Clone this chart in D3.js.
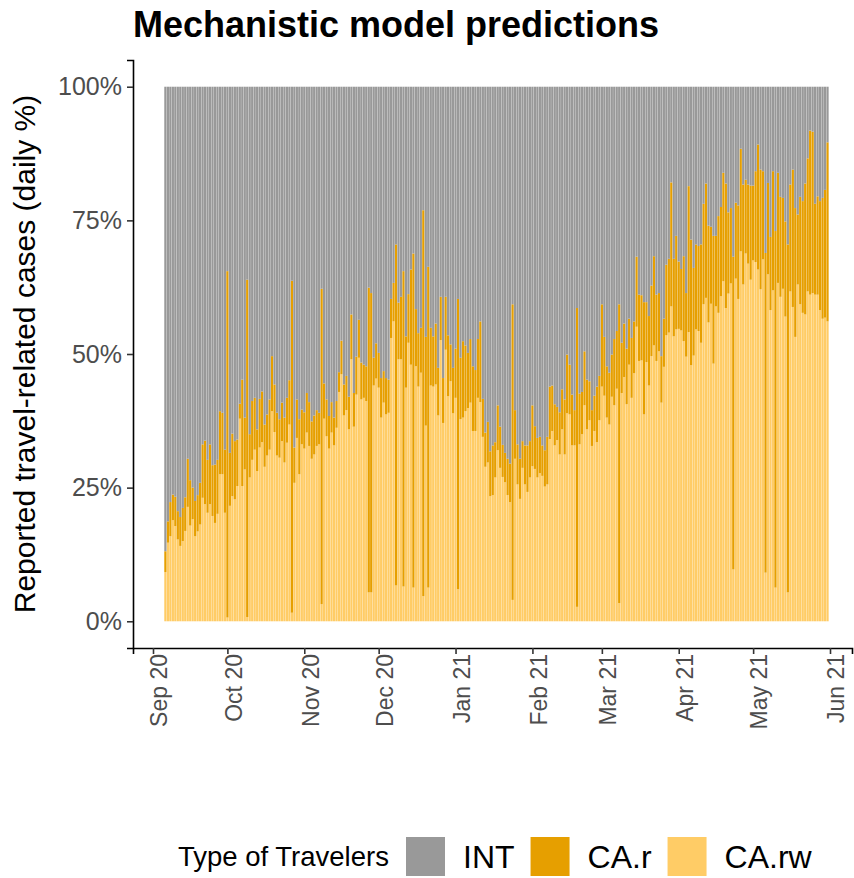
<!doctype html>
<html lang="en">

<head>
  <meta charset="UTF-8">
  <title>Mechanistic model predictions</title>
  <style type="text/css">
    body { margin: 0; background: #fff; }
    text { font-family: "Liberation Sans", Arial, Helvetica, sans-serif; }
  </style>
  <script src="https://cdnjs.cloudflare.com/ajax/libs/d3/7.8.5/d3.min.js"></script>
</head>

<body>
  <div id="container"></div>
  <script>
    // first day of the daily series, one bar per day after it
    var firstDay = "2020-09-06";

    // share of reported travel-related cases (%)
    var caRw = [
      9.2, 14.7, 15.9, 18.9, 17.8, 15.3, 14.1, 15.0, 16.9, 21.4,
      17.9, 19.1, 15.9, 16.8, 18.1, 23.1, 21.9, 20.3, 21.9, 19.7,
      18.4, 20.1, 27.5, 27.5, 20.3, 0.7, 21.6, 23.4, 22.8, 25.3,
      37.9, 25.3, 28.4, 0.8, 26.9, 30.2, 32.1, 28.1, 32.5, 33.5,
      28.9, 31.0, 32.1, 39.3, 35.4, 31.0, 30.6, 33.7, 29.7, 33.4,
      36.8, 1.6, 25.9, 34.3, 27.5, 33.1, 32.3, 35.3, 32.8, 30.4,
      31.2, 32.8, 33.1, 3.2, 37.9, 34.6, 32.3, 35.3, 32.9, 36.2,
      42.9, 46.2, 38.5, 39.5, 35.9, 49.0, 36.4, 42.4, 49.3, 41.5,
      41.8, 41.2, 5.4, 5.4, 44.1, 45.4, 43.7, 38.1, 40.9, 38.7,
      39.0, 53.0, 56.1, 6.7, 49.0, 49.0, 6.5, 43.7, 52.1, 48.0,
      6.3, 47.7, 43.9, 46.5, 4.7, 36.6, 6.3, 44.1, 43.9, 44.3,
      38.5, 52.6, 37.1, 50.8, 42.1, 44.9, 38.9, 41.8, 6.0, 37.8,
      38.1, 39.3, 39.9, 40.9, 35.6, 35.6, 41.8, 41.0, 34.5, 28.9,
      29.7, 23.4, 23.6, 26.9, 32.0, 28.7, 27.0, 26.0, 23.6, 22.3,
      4.0, 30.4, 25.6, 22.9, 28.7, 25.6, 24.2, 26.9, 29.0, 28.5,
      26.9, 27.7, 27.2, 25.2, 25.6, 34.1, 35.6, 32.9, 33.9, 31.2,
      35.9, 31.2, 38.9, 38.7, 32.9, 32.9, 2.7, 33.1, 35.0, 40.4,
      35.9, 37.6, 32.8, 35.6, 33.5, 37.6, 43.9, 42.2, 38.1, 36.8,
      42.0, 40.4, 43.5, 3.4, 42.7, 45.7, 40.6, 48.0, 41.8, 46.4,
      55.1, 48.7, 48.8, 38.7, 48.5, 44.1, 49.6, 51.6, 48.7, 50.5,
      40.9, 47.6, 53.5, 54.0, 58.9, 53.3, 54.6, 54.7, 54.4, 52.4,
      49.5, 54.1, 47.9, 49.7, 54.6, 54.3, 52.1, 59.3, 60.5, 55.9,
      59.4, 48.2, 58.9, 57.7, 60.8, 63.6, 58.6, 61.3, 63.2, 9.7,
      64.1, 60.3, 69.2, 63.0, 68.8, 66.9, 63.9, 67.5, 67.2, 65.8,
      62.1, 67.7, 9.1, 64.9, 58.2, 61.9, 6.3, 63.3, 60.7, 62.2,
      57.0, 5.4, 61.7, 58.8, 53.2, 63.0, 59.3, 57.7, 57.4, 61.7,
      61.1, 61.4, 61.1, 61.1, 58.2, 56.6, 56.8, 56.1
    ];
    var caR = [
      3.9, 4.0, 6.4, 4.8, 5.5, 5.3, 5.4, 6.2, 6.3, 9.0,
      8.5, 5.9, 6.6, 6.8, 7.8, 10.0, 11.9, 9.9, 11.2, 9.5,
      10.9, 10.1, 11.8, 11.5, 11.8, 64.8, 9.9, 11.7, 10.9, 8.7,
      2.8, 19.9, 9.7, 63.1, 8.1, 11.0, 9.7, 7.8, 9.1, 9.5,
      7.9, 7.7, 9.4, 10.3, 8.9, 8.0, 7.2, 7.2, 8.4, 8.4,
      8.3, 62.1, 6.6, 7.2, 10.3, 6.5, 6.8, 7.4, 8.2, 7.0,
      7.3, 6.7, 5.9, 59.0, 6.6, 6.9, 6.1, 5.7, 5.2, 5.0,
      3.7, 6.3, 5.8, 6.4, 6.1, 8.4, 6.3, 7.1, 7.1, 6.9,
      6.2, 6.5, 57.0, 56.0, 5.2, 6.6, 6.5, 7.4, 5.9, 6.8,
      6.2, 7.3, 7.2, 63.8, 10.6, 11.7, 59.0, 9.6, 9.1, 17.8,
      62.5, 10.7, 10.0, 8.4, 72.2, 16.6, 60.0, 10.8, 9.4, 11.4,
      8.9, 8.1, 8.4, 9.9, 11.4, 6.9, 8.5, 9.2, 54.3, 11.5,
      14.3, 12.3, 10.3, 11.9, 12.1, 11.4, 11.0, 15.1, 7.1, 6.4,
      7.6, 8.4, 9.3, 6.6, 8.4, 7.7, 6.0, 5.5, 6.8, 7.2,
      55.3, 9.1, 7.5, 7.5, 5.0, 7.3, 8.7, 6.8, 11.4, 8.0,
      7.4, 6.8, 5.7, 6.8, 8.9, 9.8, 8.5, 7.7, 6.2, 7.9,
      7.5, 10.3, 11.0, 9.3, 9.5, 6.6, 55.9, 9.5, 7.9, 10.1,
      9.3, 7.3, 6.7, 6.6, 10.4, 8.3, 15.4, 11.0, 9.6, 9.7,
      7.9, 12.4, 10.8, 55.9, 9.4, 10.0, 10.4, 8.6, 11.2, 9.7,
      13.1, 12.4, 12.2, 21.0, 11.2, 13.0, 13.2, 16.7, 12.4, 10.9,
      8.7, 9.0, 13.2, 13.8, 23.2, 14.5, 17.5, 12.6, 11.5, 15.9,
      11.9, 27.3, 23.5, 16.4, 15.9, 15.9, 18.4, 18.8, 21.4, 18.1,
      14.4, 23.9, 13.2, 18.1, 16.7, 20.3, 23.3, 15.2, 14.1, 58.5,
      14.2, 17.5, 19.2, 18.7, 13.8, 14.8, 17.6, 14.0, 17.0, 23.4,
      22.4, 16.5, 59.8, 17.1, 13.7, 22.3, 66.7, 20.6, 18.7, 17.0,
      17.8, 65.1, 20.0, 25.7, 24.1, 13.1, 20.1, 20.9, 24.5, 24.9,
      30.7, 30.2, 17.0, 18.4, 20.4, 22.6, 23.9, 33.5
    ];

    var travelerTypes = ["INT", "CA.r", "CA.rw"];
    var travelerColors = ["#999999", "#E69F00", "#FFCC66"];

    var yTicks = [0, 25, 50, 75, 100];
    var xTickDates = ["2020-09-01", "2020-10-01", "2020-11-01", "2020-12-01", "2021-01-01",
      "2021-02-01", "2021-03-01", "2021-04-01", "2021-05-01", "2021-06-01"];
    var xTickLabels = ["Sep 20", "Oct 20", "Nov 20", "Dec 20", "Jan 21",
      "Feb 21", "Mar 21", "Apr 21", "May 21", "Jun 21"];

    var width = 854,
      height = 878,
      panel = { left: 133, right: 852, top: 60, bottom: 648 };

    var parse = d3.utcParse("%Y-%m-%d");
    var start = parse(firstDay);

    // one row per day, INT is what is left of 100%
    var rows = caRw.map(function (v, i) {
      return {
        date: d3.utcDay.offset(start, i),
        "CA.rw": v,
        "CA.r": caR[i],
        "INT": 100 - v - caR[i]
      };
    });

    var svg = d3.select('#container').append('svg')
      .attr('width', width).attr('height', height)
      .style('display', 'block');

    // date scale: Sep 1 -> 153px, Jun 1 -> 830px, then widened to the panel
    var xBase = d3.scaleUtc()
      .domain([parse("2020-09-01"), parse("2021-06-01")])
      .range([153, 830]);
    var x = d3.scaleUtc()
      .domain([xBase.invert(panel.left), xBase.invert(panel.right)])
      .range([panel.left, panel.right]);

    var y = d3.scaleLinear()
      .domain([-5, 105])
      .range([panel.bottom, panel.top]);

    var dayW = x(d3.utcDay.offset(start, 1)) - x(start);

    var stack = d3.stack().keys(["CA.rw", "CA.r", "INT"]);
    var series = stack(rows);
    var color = d3.scaleOrdinal().domain(travelerTypes).range(travelerColors);

    var g = svg.append('g');
    g.selectAll('g.layer')
      .data(series)
      .join('g')
      .attr('class', 'layer')
      .attr('fill', function (d) { return color(d.key); })
      .selectAll('rect')
      .data(function (d) { return d; })
      .join('rect')
      .attr('x', function (d) { return x(d.data.date) - dayW * 0.45; })
      .attr('width', dayW * 0.9)
      .attr('y', function (d) { return y(d[1]); })
      .attr('height', function (d) { return y(d[0]) - y(d[1]); });

    // y axis
    var yAxis = svg.append('g')
      .attr('transform', 'translate(' + panel.left + ',0)')
      .call(d3.axisLeft(y).tickValues(yTicks).tickFormat(function (d) { return d + '%'; })
        .tickSizeOuter(0).tickSize(6).tickPadding(5));
    yAxis.select('.domain').attr('stroke', '#000').attr('stroke-width', 1.6);
    yAxis.selectAll('.tick line').attr('stroke', '#333').attr('stroke-width', 1.6);
    yAxis.selectAll('.tick text').attr('fill', '#4D4D4D').style('font-size', '25px')
      .style('font-family', '"Liberation Sans", Arial, sans-serif');

    // x axis, labels turned to read upwards
    var xAxis = svg.append('g')
      .attr('transform', 'translate(0,' + panel.bottom + ')')
      .call(d3.axisBottom(x).tickValues(xTickDates.map(parse))
        .tickFormat(function (d, i) { return xTickLabels[i]; })
        .tickSizeOuter(0).tickSize(6).tickPadding(5));
    xAxis.select('.domain').attr('stroke', '#000').attr('stroke-width', 1.6);
    xAxis.selectAll('.tick line').attr('stroke', '#333').attr('stroke-width', 1.6);
    xAxis.selectAll('.tick text')
      .attr('fill', '#4D4D4D').style('font-size', '23px')
      .style('font-family', '"Liberation Sans", Arial, sans-serif')
      .attr('text-anchor', 'end')
      .attr('transform', 'rotate(-90)')
      .attr('x', -6).attr('y', 0).attr('dy', '0.6em');

    // title
    svg.append('text')
      .attr('x', panel.left).attr('y', 37)
      .style('font-size', '36px').style('font-weight', 'bold')
      .text('Mechanistic model predictions');

    // y axis title
    svg.append('text')
      .attr('transform', 'translate(35,' + ((panel.top + panel.bottom) / 2) + ') rotate(-90)')
      .attr('text-anchor', 'middle')
      .style('font-size', '30px')
      .text('Reported travel-related cases (daily %)');

    // legend
    var legend = svg.append('g');
    legend.append('text')
      .attr('x', 178).attr('y', 866)
      .style('font-size', '27.5px')
      .text('Type of Travelers');
    var lx = 406;
    travelerTypes.forEach(function (t) {
      legend.append('rect')
        .attr('x', lx).attr('y', 837).attr('width', 39).attr('height', 39)
        .attr('fill', color(t));
      var label = legend.append('text')
        .attr('x', lx + 57).attr('y', 868)
        .style('font-size', '32px')
        .text(t);
      lx = lx + 57 + label.node().getComputedTextLength() + 16;
    });
  </script>
</body>

</html>
